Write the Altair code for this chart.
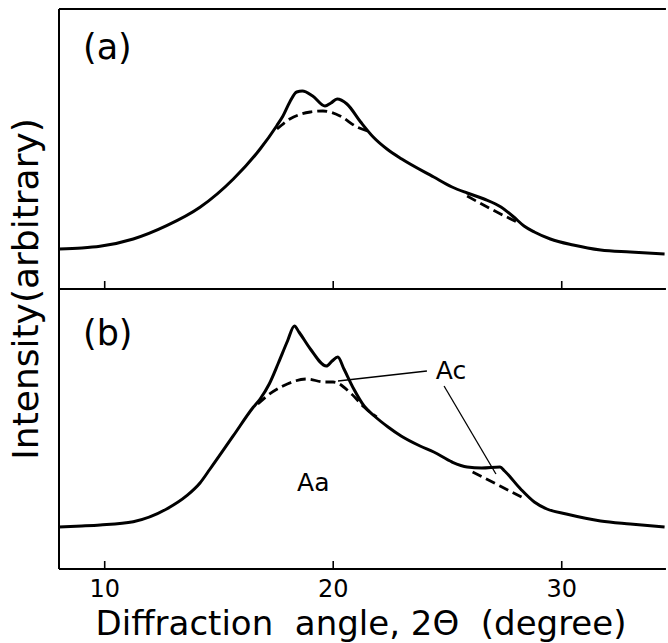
import altair as alt
import pandas as pd

FONT = "DejaVu Sans"
X_MIN, X_MAX = 8.0, 34.65
Y_MAX = 280
TICKS = [10, 20, 30]
TICK_LABELS = ["10", "20", "30"]
X_TITLE = "Diffraction\u00a0 angle, 2\u0398\u00a0 (degree)"
Y_TITLE = "Intensity(arbitrary)"

# ---- panel (a) ----
A_ANGLE = [8.0, 9.0, 9.79, 11.25, 12.71, 14.17, 15.63, 16.8, 17.53, 17.8, 18.1, 18.4,
           18.65, 19.1, 19.64, 19.9, 20.17, 20.6, 21.2, 21.75, 22.35, 23.0, 24.4, 25.2,
           25.86, 26.6, 27.34, 27.9, 28.35, 28.8, 29.5, 30.5, 31.7, 33.0, 34.5]
A_INT = [40, 41, 42.7, 50, 63.3, 81.7, 110, 140, 163.3, 173, 187, 197,
         198, 193, 183, 186, 190, 185, 167, 152, 140, 130, 112, 102,
         96, 90, 82, 72, 63, 57, 50, 44, 39, 37, 35]
A_BASE1_ANGLE = [17.54, 18.1, 18.6, 19.0, 19.55, 20.3, 21.04, 21.5]
A_BASE1_INT = [160, 170, 175, 177, 178, 173, 162, 158]
A_BASE2_ANGLE = [25.86, 26.9, 28.13]
A_BASE2_INT = [93, 80, 66]

# ---- panel (b) ----
B_ANGLE = [8.0, 9.0, 9.8, 11.25, 12.71, 13.59, 14.17, 14.61, 15.63, 16.5, 16.8,
           17.2, 17.6, 18.0, 18.3, 18.5, 19.0, 19.7, 19.95, 20.2, 20.47, 20.9, 21.35,
           21.8, 22.4, 22.97, 23.8, 24.4, 25.2, 25.86, 26.5, 27.3, 27.5, 28.2, 28.8,
           29.35, 30.2, 31.7, 33.0, 34.5]
B_INT = [42, 43, 44, 47.3, 60, 73.3, 86, 100, 133.3, 161.7, 170,
         185, 206, 228, 243, 237, 220, 203, 208, 212, 200, 180, 163,
         153, 142, 133, 123, 117, 107, 102, 101, 102, 98, 80, 67,
         60, 55, 48, 45, 42]
B_BASE1_ANGLE = [16.7, 17.1, 17.8, 18.85, 19.6, 20.0, 20.8, 21.35, 21.9]
B_BASE1_INT = [165, 173, 183, 190, 187, 187, 175, 162, 152]
B_BASE2_ANGLE = [26.1, 27.3, 28.4]
B_BASE2_INT = [97, 83, 70]

# annotations (data coordinates of panel b)
LEADER_X = [20.21, 24.1, 24.85, 27.12]
LEADER_Y = [188, 198, 183, 95]
LEADER_ID = ["l1", "l1", "l2", "l2"]
ANN_TEXT = ["Ac", "Aa"]
ANN_X = [24.49, 18.42]
ANN_Y = [190, 78]

PH = 280          # height of one panel
H = 2 * PH
FRAME_END = X_MAX - 0.09   # keeps the 2px frame stroke inside the plot width

xs = alt.Scale(domain=[X_MIN, X_MAX], nice=False, zero=False)
X = alt.X("angle:Q", scale=xs, axis=None)


def yscale(panel_index):
    top = panel_index * PH
    return alt.Scale(domain=[0, Y_MAX], range=[top + PH, top], nice=False, zero=False)


def series(xv, yv):
    return pd.DataFrame({"angle": xv, "intensity": yv})


def one(df):
    return alt.Chart(df)


layers = []

# frame (left, top, middle divider, bottom)
frame = pd.DataFrame({"k": [0]})
layers.append(one(frame).mark_rule(color="black", strokeWidth=2)
              .encode(x=alt.value(0), y=alt.value(0), y2=alt.value(H)))
for yy in (0, PH, H):
    layers.append(one(frame).mark_rule(color="black", strokeWidth=2)
                  .encode(x=alt.X(datum=X_MIN, type="quantitative", scale=xs, axis=None),
                          x2=alt.X2(datum=FRAME_END), y=alt.value(yy)))

# inward ticks on both panels
ticks = pd.DataFrame({"angle": TICKS, "lab": TICK_LABELS})
for p in (0, 1):
    base = (p + 1) * PH
    layers.append(one(ticks).mark_rule(color="black", strokeWidth=1.6)
                  .encode(x=X, y=alt.value(base), y2=alt.value(base - 8)))
# tick labels
layers.append(one(ticks).mark_text(font=FONT, fontSize=24, align="center",
                                   baseline="alphabetic", color="black")
              .encode(x=X, y=alt.value(H + 28), text="lab:N"))

panels = [
    (series(A_ANGLE, A_INT), [series(A_BASE1_ANGLE, A_BASE1_INT), series(A_BASE2_ANGLE, A_BASE2_INT)]),
    (series(B_ANGLE, B_INT), [series(B_BASE1_ANGLE, B_BASE1_INT), series(B_BASE2_ANGLE, B_BASE2_INT)]),
]
for p, (solid, bases) in enumerate(panels):
    Y = alt.Y("intensity:Q", scale=yscale(p), axis=None)
    layers.append(one(solid).mark_line(color="black", strokeWidth=3, interpolate="monotone",
                                       strokeJoin="round")
                  .encode(x=X, y=Y))
    for b in bases:
        layers.append(one(b).mark_line(color="black", strokeWidth=2.8, strokeDash=[10, 5],
                                       strokeJoin="round", interpolate="monotone")
                      .encode(x=X, y=Y))

YB = alt.Y("intensity:Q", scale=yscale(1), axis=None)
leaders = pd.DataFrame({"angle": LEADER_X, "intensity": LEADER_Y, "id": LEADER_ID})
layers.append(one(leaders).mark_line(color="black", strokeWidth=1.3, strokeJoin="round")
              .encode(x=X, y=YB, detail="id:N"))
ann = pd.DataFrame({"angle": ANN_X, "intensity": ANN_Y, "txt": ANN_TEXT})
layers.append(one(ann).mark_text(font=FONT, fontSize=25, align="left",
                                 baseline="alphabetic", color="black")
              .encode(x=X, y=YB, text="txt:N"))

# panel labels
for lab, yy in (("(a)", 49.5), ("(b)", PH + 55.5)):
    layers.append(one(pd.DataFrame({"lab": [lab]})).mark_text(
        font=FONT, fontSize=35, align="left", baseline="alphabetic", color="black")
        .encode(text="lab:N", x=alt.value(24), y=alt.value(yy)))

# axis titles
layers.append(one(pd.DataFrame({"t": [Y_TITLE]})).mark_text(
    font=FONT, fontSize=36, angle=270, align="center", baseline="middle", color="black")
    .encode(text="t:N", x=alt.value(-32), y=alt.value(PH)))
layers.append(one(pd.DataFrame({"t": [X_TITLE]})).mark_text(
    font=FONT, fontSize=34, align="center", baseline="alphabetic", color="black")
    .encode(text="t:N", x=alt.value(302), y=alt.value(H + 66)))

chart = (
    alt.layer(*layers)
    .resolve_scale(y="independent")
    .properties(width=668, height=643, background="white",
                autosize=alt.AutoSizeParams(type="fit", contains="padding"),
                padding={"left": 9, "top": 8, "right": 0, "bottom": 0})
    .configure_view(stroke=None)
)

chart.save("out.html", embed_options={"renderer": "svg", "actions": False})
